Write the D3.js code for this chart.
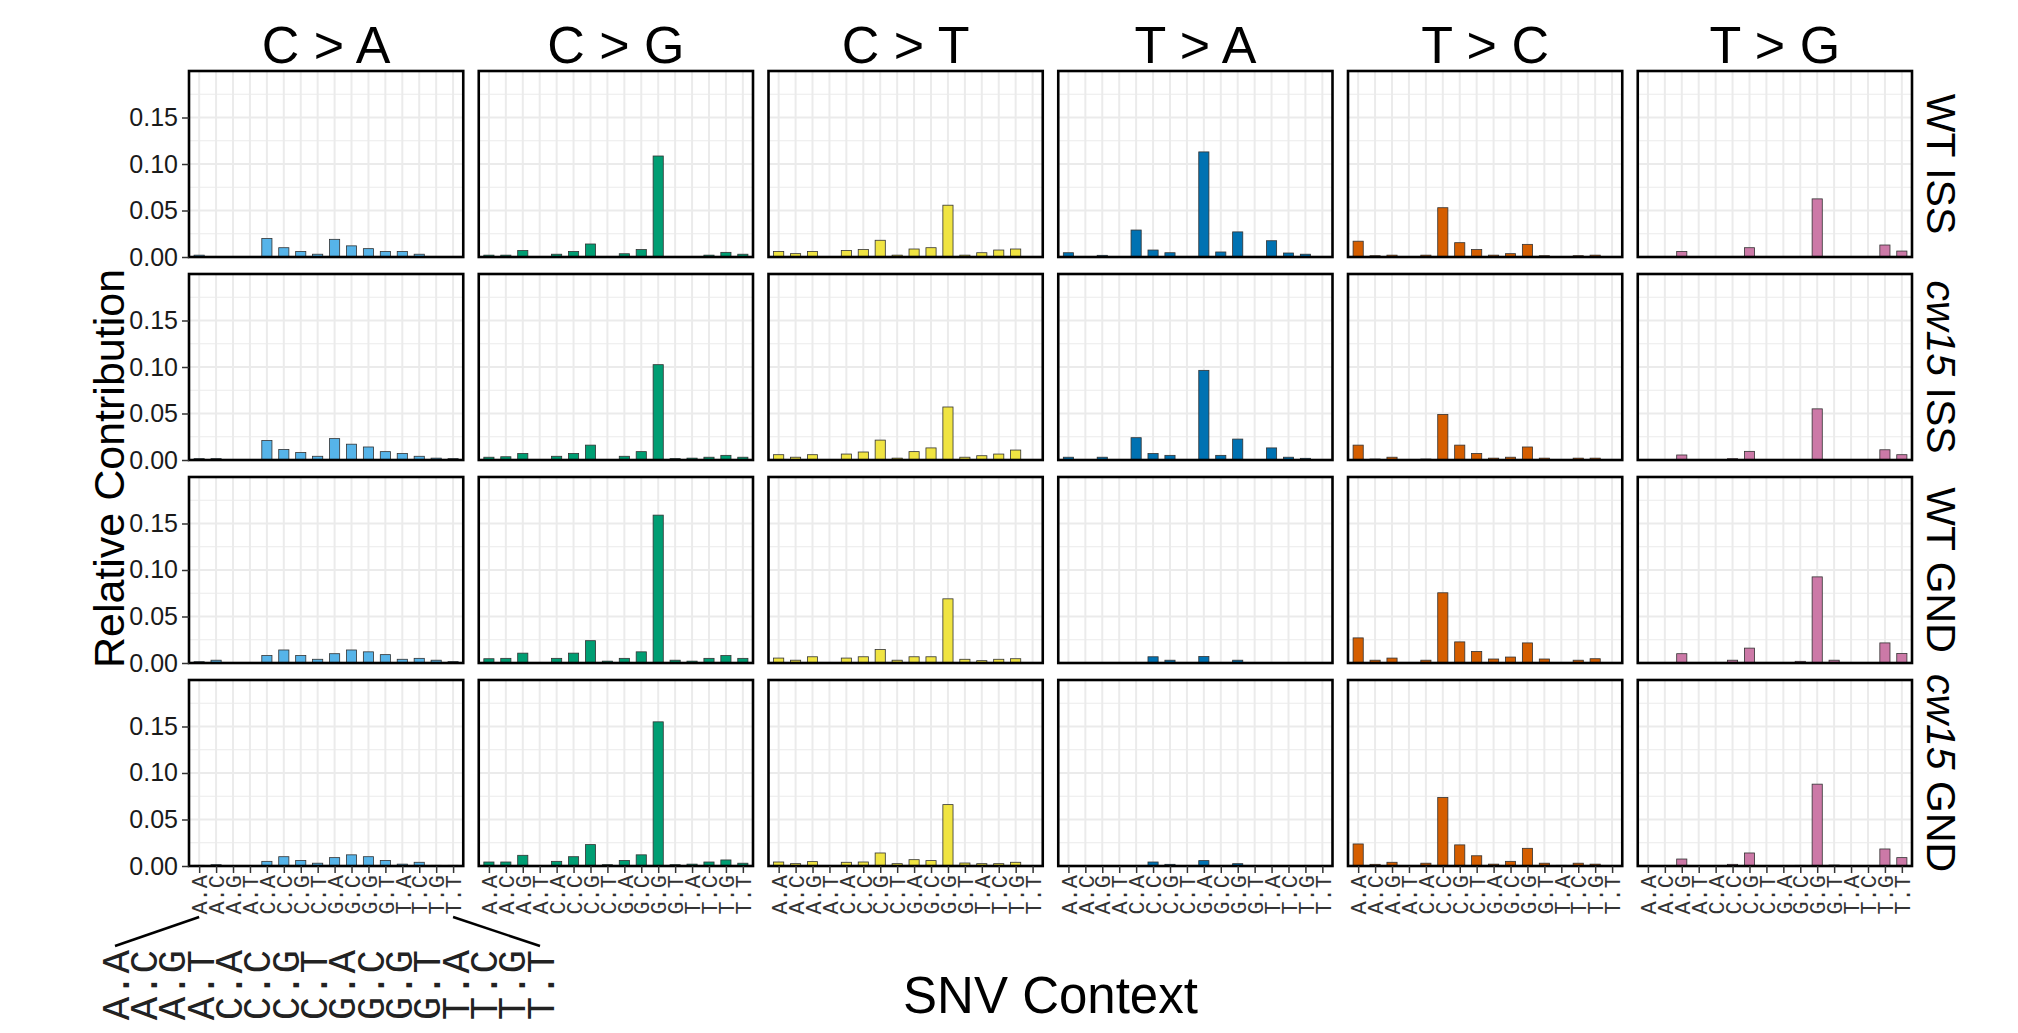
<!DOCTYPE html>
<html>
<head>
<meta charset="utf-8">
<script src="https://cdnjs.cloudflare.com/ajax/libs/d3/7.8.5/d3.min.js"></script>
<style>
body { margin: 0; background: #fff; }
svg { display: block; font-family: "Liberation Sans", Arial, sans-serif; }
.grid line { stroke: #ebebeb; }
.tick line { stroke: #333; stroke-width: 1.5; }
</style>
</head>
<body>
<div id="graph"></div>
<script>
var mutTypes = ["C > A", "C > G", "C > T", "T > A", "T > C", "T > G"]
var samples = ["WT ISS", "cw15 ISS", "WT GND", "cw15 GND"]
var contexts = ["A.A", "A.C", "A.G", "A.T", "C.A", "C.C", "C.G", "C.T",
                "G.A", "G.C", "G.G", "G.T", "T.A", "T.C", "T.G", "T.T"]
var yTicks = [0, 0.05, 0.10, 0.15]
var yMinor = [0.025, 0.075, 0.125, 0.175]

// one line per mutation type, 16 contexts each
var wtISS = [
  0.002, 0, 0, 0, 0.020, 0.010, 0.006, 0.003, 0.019, 0.012, 0.009, 0.006, 0.006, 0.003, 0, 0,
  0.002, 0.002, 0.007, 0, 0.003, 0.006, 0.014, 0, 0.0035, 0.008, 0.1086, 0, 0, 0.002, 0.005, 0.003,
  0.006, 0.0036, 0.006, 0, 0.007, 0.008, 0.018, 0.002, 0.0086, 0.010, 0.0557, 0.002, 0.0046, 0.0075, 0.0086, 0,
  0.0046, 0, 0.0018, 0, 0.029, 0.0075, 0.0046, 0, 0.113, 0.0054, 0.027, 0, 0.0175, 0.0043, 0.003, 0,
  0.017, 0.0014, 0.002, 0, 0.002, 0.053, 0.0154, 0.008, 0.002, 0.0036, 0.0136, 0.0014, 0, 0.0014, 0.002, 0,
  0, 0, 0.006, 0, 0, 0, 0.010, 0, 0, 0, 0.0625, 0, 0, 0, 0.0129, 0.0064
]
var cw15ISS = [
  0.0015, 0.0015, 0, 0, 0.021, 0.0114, 0.008, 0.004, 0.023, 0.017, 0.014, 0.009, 0.007, 0.004, 0.002, 0.0015,
  0.003, 0.0035, 0.007, 0, 0.004, 0.007, 0.016, 0, 0.004, 0.009, 0.1025, 0.0015, 0.002, 0.003, 0.005, 0.003,
  0.0057, 0.003, 0.0057, 0, 0.0064, 0.0086, 0.0214, 0.002, 0.009, 0.013, 0.057, 0.003, 0.0046, 0.0064, 0.0107, 0,
  0.003, 0, 0.003, 0, 0.024, 0.007, 0.005, 0, 0.0964, 0.005, 0.0225, 0, 0.013, 0.003, 0.0018, 0,
  0.016, 0.001, 0.003, 0, 0.001, 0.049, 0.016, 0.007, 0.002, 0.003, 0.014, 0.002, 0, 0.002, 0.002, 0,
  0, 0, 0.0054, 0, 0, 0.0014, 0.0093, 0, 0, 0, 0.055, 0, 0, 0, 0.011, 0.0057
]
var wtGND = [
  0.0014, 0.003, 0, 0, 0.008, 0.014, 0.008, 0.004, 0.010, 0.014, 0.012, 0.009, 0.004, 0.005, 0.003, 0.0015,
  0.0046, 0.005, 0.0106, 0, 0.005, 0.0106, 0.024, 0.002, 0.005, 0.012, 0.159, 0.003, 0.002, 0.005, 0.008, 0.005,
  0.0053, 0.003, 0.0067, 0, 0.0053, 0.0067, 0.0145, 0.003, 0.0067, 0.0067, 0.069, 0.004, 0.0025, 0.004, 0.0046, 0,
  0, 0, 0, 0, 0, 0.0067, 0.003, 0, 0.007, 0, 0.003, 0, 0, 0, 0, 0,
  0.027, 0.003, 0.0053, 0, 0.003, 0.0755, 0.0227, 0.0124, 0.0043, 0.0064, 0.0216, 0.0043, 0, 0.003, 0.0046, 0,
  0, 0, 0.010, 0, 0, 0.003, 0.016, 0, 0, 0.0018, 0.0926, 0.003, 0, 0, 0.0216, 0.0103
]
var cw15GND = [
  0.0007, 0.0014, 0, 0, 0.005, 0.010, 0.006, 0.003, 0.009, 0.012, 0.010, 0.006, 0.002, 0.004, 0.0007, 0.0007,
  0.0043, 0.0043, 0.0115, 0, 0.005, 0.010, 0.023, 0.0014, 0.006, 0.012, 0.155, 0.0014, 0.002, 0.0043, 0.0065, 0.003,
  0.0043, 0.0025, 0.0047, 0, 0.004, 0.0043, 0.014, 0.0025, 0.0068, 0.0058, 0.066, 0.0032, 0.0025, 0.0025, 0.004, 0,
  0, 0, 0, 0, 0, 0.0043, 0.0018, 0, 0.0058, 0, 0.0025, 0, 0, 0, 0, 0,
  0.0237, 0.0018, 0.004, 0, 0.003, 0.0737, 0.0227, 0.011, 0.002, 0.005, 0.019, 0.003, 0.0007, 0.003, 0.002, 0,
  0, 0, 0.0075, 0, 0, 0.0018, 0.014, 0, 0, 0.0007, 0.088, 0.001, 0, 0, 0.0183, 0.009
]
var sampleValues = [wtISS, cw15ISS, wtGND, cw15GND]

var colors = ["#56B4E9", "#009E73", "#F0E442", "#0072B2", "#D55E00", "#CC79A7"]

var W = 2018, H = 1033
var margin = {top: 71, right: 106, bottom: 167, left: 189}

function render(){
  var svg = d3.select('#graph').html('')
    .append('svg')
    .attr('width', W)
    .attr('height', H)

  var col = d3.scaleBand()
    .domain(mutTypes)
    .range([margin.left, W - margin.right])
    .paddingInner(0.0535)
  var row = d3.scaleBand()
    .domain(samples)
    .range([margin.top, H - margin.bottom])
    .paddingInner(0.0837)

  var pw = col.bandwidth(), ph = row.bandwidth()

  var x = d3.scalePoint()
    .domain(contexts)
    .range([0, pw])
    .padding(0.6)
  var y = d3.scaleLinear()
    .domain([0, 0.2])
    .range([ph, 0])
  var barW = x.step() * 0.6

  samples.forEach(function(s, si){
    mutTypes.forEach(function(m, mi){
      var g = svg.append('g')
        .attr('transform', 'translate(' + col(m) + ',' + row(s) + ')')

      var data = contexts.map(function(c, ci){
        return {ctx: c, v: sampleValues[si][mi*16 + ci]}
      })

      // grid
      var grid = g.append('g').attr('class', 'grid')
      grid.selectAll('.minor').data(yMinor).enter().append('line')
        .attr('x1', 0).attr('x2', pw)
        .attr('y1', function(d){ return y(d) }).attr('y2', function(d){ return y(d) })
        .style('stroke-width', 1)
      grid.selectAll('.major').data(yTicks).enter().append('line')
        .attr('x1', 0).attr('x2', pw)
        .attr('y1', function(d){ return y(d) }).attr('y2', function(d){ return y(d) })
        .style('stroke-width', 2)
      grid.selectAll('.vert').data(contexts).enter().append('line')
        .attr('x1', function(d){ return x(d) }).attr('x2', function(d){ return x(d) })
        .attr('y1', 0).attr('y2', ph)
        .style('stroke-width', 2)

      g.selectAll('.bar')
        .data(data.filter(function(d){ return d.v > 0 }))
        .enter().append('rect')
        .attr('class', 'bar')
        .attr('x', function(d){ return x(d.ctx) - barW/2 })
        .attr('width', barW)
        .attr('y', function(d){ return y(d.v) })
        .attr('height', function(d){ return y(0) - y(d.v) })
        .attr('fill', colors[mi])
        .attr('stroke', '#333')
        .attr('stroke-width', 0.8)

      g.append('rect')
        .attr('width', pw).attr('height', ph)
        .attr('fill', 'none')
        .attr('stroke', '#000')
        .attr('stroke-width', 2.6)

      if (mi == 0) {
        var ya = g.append('g')
          .call(d3.axisLeft(y).tickValues(yTicks).tickFormat(d3.format('.2f')).tickSize(7).tickPadding(4))
        ya.select('.domain').remove()
        ya.selectAll('text').style('font-size', '25px').style('fill', '#1a1a1a')
          .style('font-family', '"Liberation Sans", Arial, sans-serif')
      }

      if (si == samples.length - 1) {
        var xa = g.append('g')
          .attr('transform', 'translate(0,' + ph + ')')
          .call(d3.axisBottom(x).tickSize(7))
        xa.select('.domain').remove()
        xa.selectAll('text')
          .attr('transform', 'rotate(-90)')
          .attr('x', -9)
          .attr('y', 0)
          .attr('dy', '0.35em')
          .style('text-anchor', 'end')
          .style('font-size', '22px')
          .style('font-family', '"Liberation Mono", "Courier New", monospace')
          .style('fill', '#333')
      }

      if (si == 0) {
        svg.append('text')
          .attr('x', col(m) + pw/2)
          .attr('y', 63)
          .attr('text-anchor', 'middle')
          .style('font-size', '52px')
          .text(m)
      }
    })

    // row strip label
    var parts = s.split(' ')
    var t = svg.append('text')
      .attr('transform', 'translate(1927,' + (row(s) + ph/2) + ') rotate(90)')
      .attr('text-anchor', 'middle')
      .style('font-size', '41px')
    t.append('tspan')
      .style('font-style', parts[0] == 'cw15' ? 'italic' : 'normal')
      .text(parts[0])
    t.append('tspan').text(' ' + parts[1])
  })

  // axis titles
  svg.append('text')
    .attr('transform', 'translate(124,' + (margin.top + (H - margin.bottom - margin.top)/2) + ') rotate(-90)')
    .attr('text-anchor', 'middle')
    .style('font-size', '43px')
    .text('Relative Contribution')

  svg.append('text')
    .attr('x', margin.left + (W - margin.right - margin.left)/2)
    .attr('y', 1013)
    .attr('text-anchor', 'middle')
    .style('font-size', '51px')
    .text('SNV Context')

  // enlarged key of the context labels
  var xk = d3.scalePoint()
    .domain(contexts)
    .range([115, 540])
  var x0 = col(mutTypes[0])
  var labelBottom = row(samples[3]) + ph + 51

  svg.append('line')
    .attr('x1', x0 + x(contexts[0])).attr('y1', labelBottom)
    .attr('x2', xk(contexts[0])).attr('y2', 946)
    .attr('stroke', '#000').attr('stroke-width', 2.5)
  svg.append('line')
    .attr('x1', x0 + x(contexts[15])).attr('y1', labelBottom)
    .attr('x2', xk(contexts[15])).attr('y2', 946)
    .attr('stroke', '#000').attr('stroke-width', 2.5)

  svg.selectAll('.key')
    .data(contexts)
    .enter().append('text')
    .attr('class', 'key')
    .attr('transform', function(d){ return 'translate(' + xk(d) + ',950) rotate(-90)' })
    .attr('dy', '0.35em')
    .style('text-anchor', 'end')
    .style('font-size', '39px')
    .style('font-family', '"Liberation Mono", "Courier New", monospace')
    .style('fill', '#222')
    .text(function(d){ return d })
}

render()
</script>
</body>
</html>
